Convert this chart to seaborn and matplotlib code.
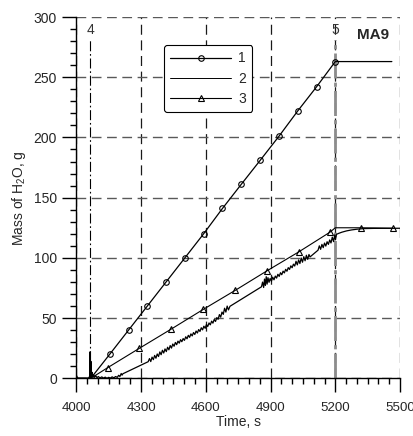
import numpy as np
import pandas as pd
import matplotlib
matplotlib.use("Agg")
import matplotlib.pyplot as plt
from matplotlib.lines import Line2D
import seaborn as sns

# ---------------- data ----------------
# Series 1 (circles)
t1 = [4000, 4067, 4155, 4242, 4329, 4416, 4503, 4590, 4677, 4764, 4852, 4939, 5026, 5113, 5200, 5462]
m1 = [0, 0, 20, 40, 60, 80, 100, 120, 141, 161, 181, 201, 222, 242, 263, 263]
m1_marked = [1, 2, 3, 4, 5, 6, 7, 8, 9, 10, 11, 12, 13, 14]

# Series 3 (triangles)
t3 = [4000, 4067, 4145, 4292, 4440, 4588, 4736, 4883, 5031, 5175, 5200, 5321, 5468]
m3 = [0, 0, 8.8, 24.9, 40.9, 57.2, 73.0, 89.2, 105.0, 121.3, 125.0, 125.0, 124.6]
m3_marked = [0, 2, 3, 4, 5, 6, 7, 8, 9, 11, 12]

# Series 2 (measured, noisy)
t2 = [4000, 4062, 4064, 4066, 4068, 4070, 4073, 4076, 4080, 4085, 4090, 4096, 4102, 4110,
      4118, 4126, 4134, 4142, 4150, 4158, 4166, 4174, 4182, 4190, 4196, 4202, 4208, 4212, 4216,
      4333, 4339, 4345, 4351, 4357, 4363, 4369, 4375, 4381, 4387, 4393, 4399, 4405, 4411,
      4417, 4423, 4429, 4435, 4441, 4447, 4453, 4459, 4465, 4471, 4477, 4483, 4489, 4495,
      4501, 4507, 4513, 4519, 4525, 4531, 4537, 4543, 4549, 4555, 4561, 4567, 4573, 4579,
      4585, 4591, 4597, 4603, 4609, 4615, 4621, 4627, 4633, 4639, 4645, 4651, 4657, 4663,
      4669, 4675, 4681, 4687, 4693, 4699, 4705, 4712,
      4858, 4863, 4868, 4872, 4876, 4880, 4884, 4888, 4893, 4898, 4904, 4910, 4916, 4922,
      4928, 4934, 4940, 4946, 4952, 4958, 4964, 4970, 4976, 4982, 4988, 4994, 5000, 5006,
      5012, 5018, 5024, 5030, 5036, 5042, 5048, 5054, 5060, 5066, 5072, 5078, 5083,
      5120, 5126, 5132, 5138, 5144, 5150, 5156, 5162, 5168, 5174, 5180, 5186, 5192, 5197,
      5201, 5205, 5215, 5230, 5252, 5275, 5300, 5330, 5380, 5500]
m2 = [0, 0, 22, 0.5, 14, 1, 5, 1.5, 3, 1, 2.2, 0.5, 1.5, 0.3,
      1.2, 0.2, 1.0, 0, 0.8, 0.2, 1.2, 0.4, 1.5, 0.8, 2.5, 1.5, 4.0, 2.6, 3.8,
      13.8, 16.4, 13.9, 17.6, 15.5, 19.0, 16.7, 20.2, 18.1, 21.9, 19.6, 23.3, 21.0, 24.4,
      22.2, 25.8, 23.7, 27.2, 25.1, 28.5, 26.6, 29.8, 27.9, 30.9, 29.2, 32.1, 30.4, 33.0,
      31.5, 34.5, 32.8, 35.7, 34.0, 36.9, 35.2, 38.0, 36.4, 39.3, 37.6, 40.5, 38.9, 42.0,
      40.2, 43.3, 41.5, 44.7, 43.0, 46.0, 44.4, 47.5, 45.8, 48.9, 47.2, 50.4, 49.0, 52.9,
      50.8, 55.0, 53.1, 58.2, 55.0, 60.0, 56.8, 59.8,
      76.0, 79.9, 75.4, 82.4, 77.1, 84.4, 78.2, 83.6, 79.7, 82.9, 80.6, 84.0, 81.8, 84.9,
      83.2, 86.4, 84.6, 87.7, 86.0, 89.0, 87.5, 90.5, 88.9, 91.9, 90.4, 93.4, 91.8, 94.8,
      93.2, 97.2, 94.2, 98.3, 95.3, 99.9, 96.4, 101.0, 97.6, 102.2, 98.8, 102.8, 100.8,
      106.4, 110.0, 107.1, 111.2, 108.5, 112.3, 109.8, 113.4, 111.2, 114.9, 112.4, 117.2, 113.5, 119.0,
      115.0, 119.5, 120.3, 121.3, 122.4, 123.2, 123.8, 124.3, 124.5, 124.6]

legend_labels = ["1", "2", "3"]
event_times = [4065, 5200]
event_labels = ["4", "5"]
x_ticks = [4000, 4300, 4600, 4900, 5200, 5500]
y_ticks = [0, 50, 100, 150, 200, 250, 300]

# ---------------- style ----------------
sns.set_style("ticks")
plt.rcParams["font.family"] = ["Liberation Sans", "DejaVu Sans"]
plt.rcParams["mathtext.fontset"] = "custom"
plt.rcParams["mathtext.rm"] = "Liberation Sans"
plt.rcParams["mathtext.it"] = "Liberation Sans"

fig = plt.figure(figsize=(4.14, 4.36), dpi=100)
ax = fig.add_axes([0.1843, 0.1323, 0.782, 0.8287])

ax.set_axisbelow(True)

# event lines
ax.plot([event_times[0]] * 2, [0, 281], color="black", lw=0.8,
        linestyle=(0, (9, 2.5, 1.5, 2.5)), zorder=1)
ax.plot([event_times[1]] * 2, [0, 281], color="0.55", lw=2.0,
        linestyle=(0, (9, 1.5, 1.5, 1.5)), zorder=1)

d1 = pd.DataFrame({"t": t1, "m": m1})
d2 = pd.DataFrame({"t": t2, "m": m2})
d3 = pd.DataFrame({"t": t3, "m": m3})

sns.lineplot(data=d2, x="t", y="m", ax=ax, color="black", lw=0.9,
             estimator=None, sort=False, zorder=3)
sns.lineplot(data=d3, x="t", y="m", ax=ax, color="black", lw=0.8,
             estimator=None, sort=False, marker="^", markersize=4.2,
             markerfacecolor="none", markeredgecolor="black", markeredgewidth=0.8,
             markevery=m3_marked, zorder=4)
sns.lineplot(data=d1, x="t", y="m", ax=ax, color="black", lw=0.9,
             estimator=None, sort=False, marker="o", markersize=4,
             markerfacecolor="none", markeredgecolor="black", markeredgewidth=0.8,
             markevery=m1_marked, zorder=5)

for tt, lab in zip(event_times, event_labels):
    ax.text(tt, 289, lab, ha="center", va="center", fontsize=10, color="0.2")
ax.text(5377, 285, "MA9", ha="center", va="center", fontsize=11, fontweight="bold")

ax.set_xlim(4000, 5500)
ax.set_ylim(0, 300)
ax.set_xticks(x_ticks)
ax.set_yticks(y_ticks)
ax.set_xticks(np.arange(4000, 5501, 50), minor=True)
ax.set_yticks(np.arange(0, 301, 10), minor=True)
ax.xaxis.grid(True, which="major", color="0.1", lw=0.9, linestyle=(0, (8, 4.5)))
ax.yaxis.grid(True, which="major", color="0.35", lw=1.0, linestyle=(0, (7, 4)))
ax.tick_params(which="major", direction="out", length=10, width=1, labelsize=10, pad=4, color="black")
ax.tick_params(axis="x", which="major", pad=7, labelsize=9.6)
ax.tick_params(which="minor", direction="out", length=4.5, width=1, color="black")

for s in ["top", "right"]:
    ax.spines[s].set_visible(False)
for s in ["left", "bottom"]:
    ax.spines[s].set_linewidth(1.0)
    ax.spines[s].set_color("black")

ax.set_xlabel("Time, s", fontsize=10, labelpad=1)
ax.set_ylabel("Mass of H$_2$O, g", fontsize=10, labelpad=4)

handles = [
    Line2D([0], [0], color="black", lw=0.9, marker="o", markersize=4,
           markerfacecolor="none", markeredgewidth=0.8),
    Line2D([0], [0], color="black", lw=0.7),
    Line2D([0], [0], color="black", lw=0.8, marker="^", markersize=4,
           markerfacecolor="none", markeredgewidth=0.8),
]
leg = ax.legend(handles, legend_labels, loc="upper left", bbox_to_anchor=(0.271, 0.922),
                borderaxespad=0, fontsize=10, handlelength=4.4, handletextpad=0.5,
                labelspacing=0.45, borderpad=0.45, numpoints=1, fancybox=True,
                framealpha=1, edgecolor="black")
leg.get_frame().set_linewidth(0.8)
leg.set_zorder(10)

fig.savefig("out.png", dpi=100)
